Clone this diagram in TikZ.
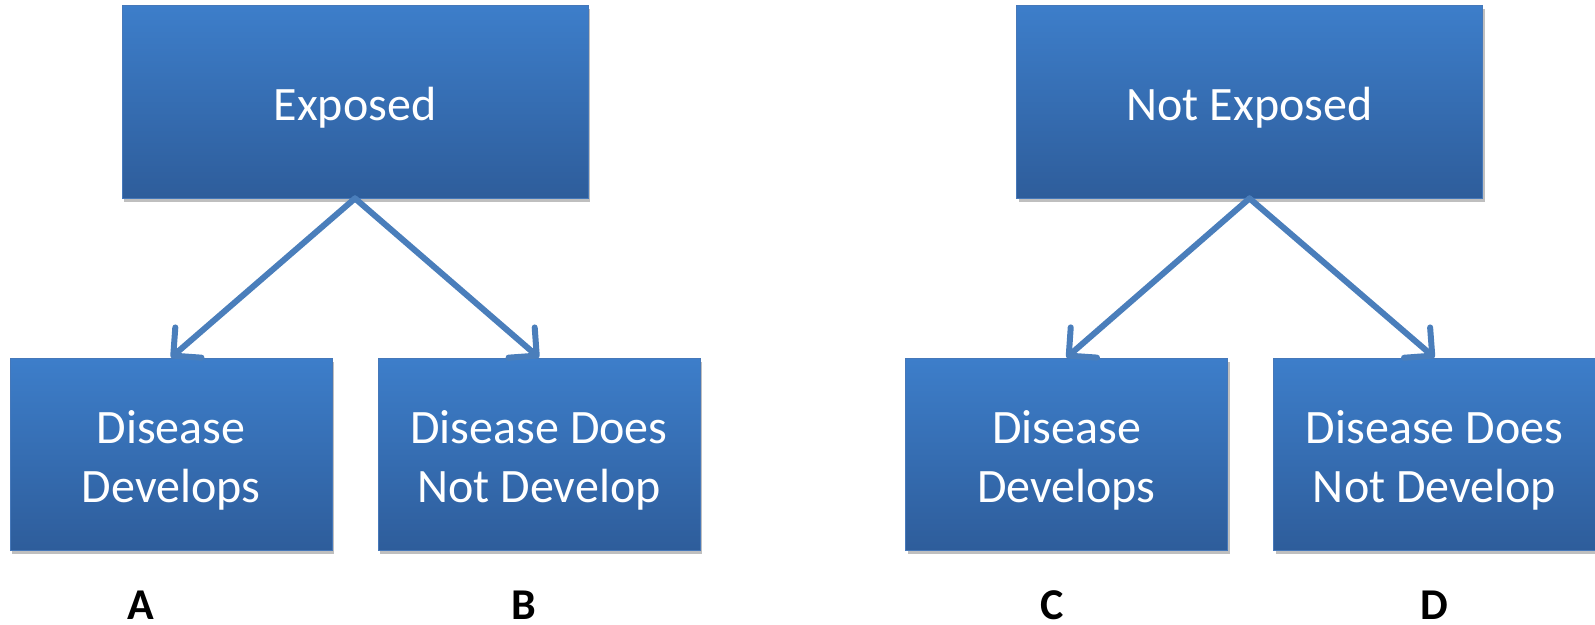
\documentclass[tikz,border=0pt]{standalone}
\usepackage{fontspec}
\setmainfont{Carlito}
\usetikzlibrary{arrows.meta,shadows}
\definecolor{boxtop}{RGB}{61,126,202}
\definecolor{boxbot}{RGB}{46,93,155}
\definecolor{boxedge}{RGB}{70,120,185}
\definecolor{arrowc}{RGB}{74,126,187}
\tikzset{
  blk/.style={rectangle, top color=boxtop, bottom color=boxbot, draw=boxedge, line width=0.8pt,
    inner sep=0pt,
    drop shadow={shadow xshift=2pt, shadow yshift=-4pt, opacity=0.25, fill=black}},
  topblk/.style={blk, minimum width=466pt, minimum height=193pt},
  botblk/.style={blk, minimum width=322pt, minimum height=192pt},
  boxtxt/.style={text=white, align=center, inner sep=0pt, font=\fontsize{48}{59}\selectfont},
  conn/.style={draw=arrowc, line width=6pt, line cap=round, line join=round,
    -{Straight Barb[length=20pt, width=40pt, line width=6pt, round]}},
  lbl/.style={font=\fontsize{44}{50}\bfseries\selectfont, anchor=base, inner sep=0pt, text=black}
}
\begin{document}
\begin{tikzpicture}[x=1pt,y=-1pt]
\useasboundingbox (0,0) rectangle (1595,624);
\node[topblk] (exp) at (355,101.5) {};
\node[botblk] (dd1) at (171,454) {};
\node[botblk] (nd1) at (539,454) {};
\node[topblk] (nexp) at (1249.5,101.5) {};
\node[botblk] (dd2) at (1066.5,454) {};
\node[botblk] (nd2) at (1434.5,454) {};
\node[boxtxt] (expt) at ([yshift=-6pt]exp.center) {Exposed};
\node[boxtxt] (dd1t) at ([yshift=-6pt]dd1.center) {Disease\\Develops};
\node[boxtxt] (nd1t) at ([yshift=-6pt]nd1.center) {Disease Does\\Not Develop};
\node[boxtxt] (nexpt) at ([yshift=-6pt]nexp.center) {Not Exposed};
\node[boxtxt] (dd2t) at ([yshift=-6pt]dd2.center) {Disease\\Develops};
\node[boxtxt] (nd2t) at ([yshift=-6pt]nd2.center) {Disease Does\\Not Develop};
\draw[conn] (exp.south) -- (dd1.north);
\draw[conn] (exp.south) -- (nd1.north);
\draw[conn] (nexp.south) -- (dd2.north);
\draw[conn] (nexp.south) -- (nd2.north);
\node[lbl] (la) at (141,619) {A};
\node[lbl] (lb) at (524,619) {B};
\node[lbl] (lc) at (1052,619) {C};
\node[lbl] (ld) at (1434,619) {D};
\end{tikzpicture}
\end{document}
